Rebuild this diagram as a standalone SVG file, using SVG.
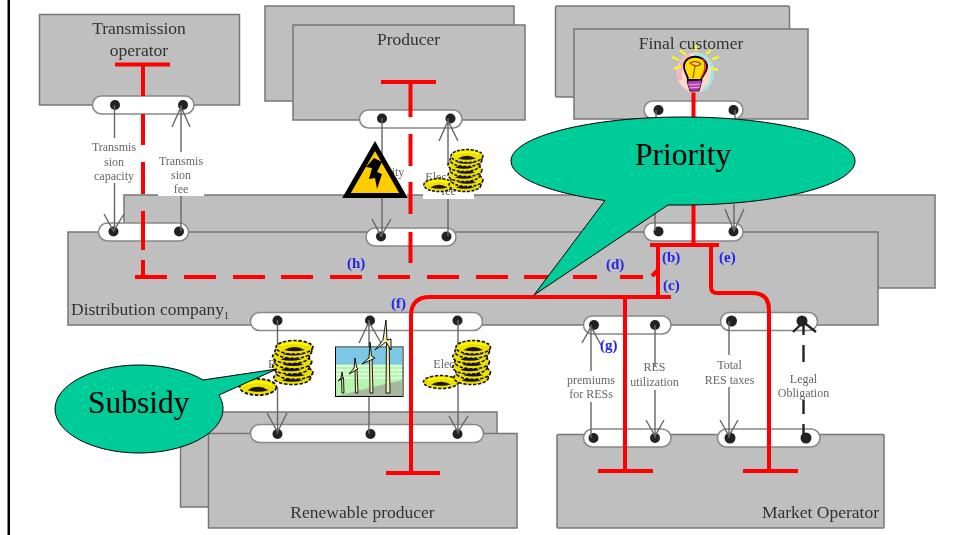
<svg xmlns="http://www.w3.org/2000/svg" xmlns:xlink="http://www.w3.org/1999/xlink" width="955" height="535" viewBox="0 0 955 535">
<style>
.box{fill:#bfbfbf;stroke:#777;stroke-width:1.5}
.pill{fill:#fff;stroke:#888;stroke-width:1.5}
.dot{fill:#222}
.title{font-family:"Liberation Serif",serif;font-size:17.5px;fill:#333}
.lab{font-family:"Liberation Serif",serif;font-size:12px;fill:#666;text-anchor:middle}
.blue{font-family:"Liberation Serif",serif;font-size:15px;font-weight:bold;fill:#2222ee}
.con{fill:none;stroke:#666;stroke-width:1.4}
.legal{fill:none;stroke:#222;stroke-width:2.4}
.red{fill:none;stroke:#f00;stroke-width:4}
.wbox{fill:#fff}
.call{fill:#00cc99;stroke:#000;stroke-width:1}
.big{font-family:"Liberation Serif",serif;font-size:31.5px;fill:#000}
.blade{fill:#f5eeb0;stroke:#000;stroke-width:.9;stroke-linejoin:round}
</style>
<defs>
<filter id="soft" x="-5%" y="-5%" width="110%" height="110%"><feGaussianBlur stdDeviation="0.45"/></filter>
<g id="coin"><ellipse cx="0" cy="0" rx="16" ry="6.500" fill="#eee000" stroke="#111" stroke-width="1.500" stroke-dasharray="3 1.500"/><path d="M-9 2.500Q0 -3 9 2.500Q0 5 -9 2.500Z" fill="#1a1400"/><path d="M-12 -2Q0 -6 12 -2" fill="none" stroke="#ff0" stroke-width="1.500"/></g>
<g id="stackA"><use xlink:href="#coin" x="1" y="35"/><use xlink:href="#coin" x="3" y="30"/><use xlink:href="#coin" x="0" y="25"/><use xlink:href="#coin" x="2" y="20"/><use xlink:href="#coin" x="0" y="15"/><use xlink:href="#coin" x="2" y="10"/><use xlink:href="#coin" x="3" y="6"/></g>
</defs>

<rect width="955" height="535" fill="#fff"/>
<rect x="7.500" y="0" width="2.500" height="535" fill="#000"/>

<g filter="url(#soft)">
<g id="transmission-operator">
<rect class="box" x="39.500" y="14.500" width="200" height="90.500"/>
<text class="title" x="139" y="34" text-anchor="middle">Transmission</text>
<text class="title" x="139" y="56" text-anchor="middle">operator</text>
<rect class="pill" x="92.500" y="96" width="101.500" height="18" rx="9"/>
<circle class="dot" cx="115" cy="105" r="5"/><circle class="dot" cx="183" cy="105" r="5"/>
</g>
<g id="producer">
<rect class="box" x="265" y="6" width="249" height="95"/>
<rect class="box" x="293" y="25" width="232" height="95"/>
<text class="title" x="408.500" y="45" text-anchor="middle">Producer</text>
<rect class="pill" x="359.500" y="110" width="102.500" height="18" rx="9"/>
<circle class="dot" cx="382" cy="118.500" r="5"/><circle class="dot" cx="450.500" cy="118.500" r="5"/>
</g>
<g id="final-customer">
<rect class="box" x="555.500" y="6" width="234" height="91" rx="1.500"/>
<rect class="box" x="574" y="29" width="234" height="90"/>
<text class="title" x="691" y="48.500" text-anchor="middle">Final customer</text>
<path class="pill" d="M653 119A9 9 0 0 1 653 101L734 101A9 9 0 0 1 734 119"/>
<circle class="dot" cx="658.500" cy="110" r="5"/><circle class="dot" cx="733.500" cy="110" r="5"/>
</g>
<g id="distribution-company">
<rect class="box" x="124" y="195" width="811" height="93"/>
<rect class="box" x="68" y="232" width="810" height="93"/>
<text class="title" x="71" y="315">Distribution company<tspan font-size="10" dy="4">1</tspan></text>
<rect class="pill" x="98.500" y="223" width="90" height="18" rx="9"/>
<circle class="dot" cx="113.500" cy="231.500" r="5"/><circle class="dot" cx="179" cy="231.500" r="5"/>
<rect class="pill" x="366" y="228" width="90" height="18" rx="9"/>
<circle class="dot" cx="381" cy="236.500" r="5"/><circle class="dot" cx="446.500" cy="236.500" r="5"/>
<rect class="pill" x="644" y="223" width="99" height="18" rx="9"/>
<circle class="dot" cx="658.500" cy="231.500" r="5"/><circle class="dot" cx="733.500" cy="231.500" r="5"/>
<rect class="pill" x="250.500" y="312.500" width="232" height="18" rx="9"/>
<circle class="dot" cx="277.500" cy="320.500" r="5"/><circle class="dot" cx="370" cy="320.500" r="5"/><circle class="dot" cx="457.500" cy="320.500" r="5"/>
<rect class="pill" x="583.500" y="316" width="87.500" height="18" rx="9"/>
<circle class="dot" cx="594" cy="325" r="5"/><circle class="dot" cx="655" cy="325" r="5"/>
<rect class="pill" x="720.500" y="312.500" width="97" height="18" rx="9"/>
<circle class="dot" cx="731.500" cy="321" r="5.500"/><circle class="dot" cx="802" cy="321" r="5.500"/>
</g>
<g id="renewable-producer">
<rect class="box" x="180.500" y="412" width="316.500" height="95"/>
<rect class="box" x="208.500" y="433.500" width="308.500" height="94.500"/>
<text class="title" x="362.500" y="518" text-anchor="middle">Renewable producer</text>
<rect class="pill" x="250.500" y="424.500" width="233" height="18" rx="9"/>
<circle class="dot" cx="277.500" cy="434" r="5"/><circle class="dot" cx="370.500" cy="434" r="5"/><circle class="dot" cx="457.500" cy="434" r="5"/>
</g>
<g id="market-operator">
<rect class="box" x="557" y="434.500" width="327" height="93.500" rx="1"/>
<text class="title" x="879" y="518" text-anchor="end">Market Operator</text>
<rect class="pill" x="583.500" y="429" width="87.500" height="18" rx="9"/>
<circle class="dot" cx="593.500" cy="438" r="5"/><circle class="dot" cx="655" cy="438" r="5"/>
<rect class="pill" x="717.500" y="429" width="102.500" height="18" rx="9"/>
<circle class="dot" cx="730" cy="438" r="5.500"/><circle class="dot" cx="806" cy="438" r="5.500"/>
</g>

<g id="connectors">
<path class="con" d="M114.500 105V231M104 214L113.500 231L124 214"/>
<path class="con" d="M181 105V231M172 127L181 107L190 127"/>
<path class="con" d="M382 118V236M372 219L381 236L391 219"/>
<path class="con" d="M448 118V236M439 141L448 121L458 141"/>
<path class="con" d="M656 110V120M655 208V231"/>
<path class="con" d="M735 110V120M734 204V231M725 209L734 231L744 209"/>
<path class="con" d="M277.500 320V434M267 413L277.500 432L287 413"/>
<path class="con" d="M369 320V434M359 343L369 322L381 343"/>
<path class="con" d="M458 320V434M449 416L458 432L468 416"/>
<path class="con" d="M591 325V438M582 343L591 327L601 345"/>
<path class="con" d="M655 325V438M646 420L655 436L664 420"/>
<path class="con" d="M729 321V438M720 420L729 436L738 420"/>
<path class="legal" d="M803.500 323V335M803.500 345V362M803.500 400V414M803.500 424V438"/>
<path class="legal" d="M793 332L803.500 322L816 332"/>
<g id="labels">
<rect class="wbox" x="92" y="138" width="46" height="45"/>
<text class="lab" x="114" y="151">Transmis</text><text class="lab" x="114" y="165.500">sion</text><text class="lab" x="114" y="180">capacity</text>
<rect class="wbox" x="158" y="152" width="46" height="44"/>
<text class="lab" x="181" y="165">Transmis</text><text class="lab" x="181" y="179">sion</text><text class="lab" x="181" y="193">fee</text>
<rect class="wbox" x="358" y="160" width="49" height="38"/>
<text class="lab" x="398" y="176">ity</text>
<rect class="wbox" x="423" y="165" width="51" height="34"/>
<text class="lab" x="436" y="181">Elec</text><text class="lab" x="448.500" y="195">fee</text>
<rect class="wbox" x="267" y="353" width="20" height="34"/>
<text class="lab" x="272" y="368">R</text>
<rect class="wbox" x="432" y="353" width="40" height="32"/>
<text class="lab" x="444" y="368">Elec</text>
<rect class="wbox" x="566" y="371" width="50" height="31"/>
<text class="lab" x="591" y="384">premiums</text><text class="lab" x="591" y="398">for RESs</text>
<rect class="wbox" x="630" y="367" width="50" height="23"/>
<text class="lab" x="654.500" y="371">RES</text><text class="lab" x="654.500" y="386">utilization</text>
<rect class="wbox" x="703" y="355" width="52" height="32"/>
<text class="lab" x="729.500" y="369">Total</text><text class="lab" x="729.500" y="384">RES taxes</text>
<rect class="wbox" x="778" y="362" width="50" height="38"/>
<text class="lab" x="803.500" y="383">Legal</text><text class="lab" x="803.500" y="397">Obligation</text>
</g>
<g id="red-lines">
<path class="red" d="M115 64.500H170M143 64.500V96M143 114V145M143 162V194M143 211V250M143 260V277"/>
<path class="red" d="M135 277H167M184 277H216M233 277H265M281 277H313M330 277H362M378 277H410M427 277H459M476 277H508M524 277H553M573 277H597M620 277H643"/>
<path class="red" d="M652 276L658 270"/>
<path class="red" d="M381 82H436M410.500 84V117M410.500 134V166M410.500 182V214M410.500 232V263"/>
<path class="red" d="M693.500 92V245M650 245H719M658 245V297"/>
<path class="red" d="M671 297H430Q411 297 411 316V473M386 473H440"/>
<path class="red" d="M625 297V471M598 471H653"/>
<path class="red" d="M711 245V287Q711 293 717 293H752Q769 293 769 310V471M743 471H798"/>
</g>
</g>

<g id="edge-labels">
<text class="blue" x="347" y="268">(h)</text>
<text class="blue" x="606" y="269">(d)</text>
<text class="blue" x="662" y="262">(b)</text>
<text class="blue" x="719" y="262">(e)</text>
<text class="blue" x="663" y="290">(c)</text>
<text class="blue" x="391" y="308">(f)</text>
<text class="blue" x="600" y="350">(g)</text>
</g>
</g>

<g id="warning-sign">
<path d="M375 146L403.500 195.500H346.500Z" fill="#fc0" stroke="#000" stroke-width="5" stroke-linejoin="miter"/>
<path d="M374 158L382 162L377 172L382 174L377 189L375 178L369 179L372 168L366 167Z" fill="#000"/>
</g>

<g id="coins">
<use xlink:href="#coin" transform="translate(439 185) scale(.95 1)"/>
<use xlink:href="#stackA" x="464" y="150"/>
<use xlink:href="#coin" transform="translate(258 387) scale(1.150 1.250)"/>
<use xlink:href="#stackA" transform="translate(291 341) scale(1.150 1.050)"/>
<use xlink:href="#coin" transform="translate(441 382) scale(1.100 1)"/>
<use xlink:href="#stackA" transform="translate(470 341) scale(1.080 1.050)"/>
</g>

<g id="wind-farm">
<rect x="335.500" y="347" width="67.500" height="49.500" fill="#b6f5b0" stroke="#000" stroke-width="1"/>
<rect x="336" y="347.500" width="66.500" height="17" fill="#7cc6e6"/>
<path d="M336 366H402.500M336 370H402.500M336 374H402.500M336 378H402.500" stroke="#e8ffe0" stroke-width="1.500"/>
<path d="M336 396L402.500 380V396Z" fill="#a8b8a0"/>
<path d="M386.500 340H389L390 393H386Z M369.500 358H372L373 393H370Z M355 368H357L358 393H355.500Z M341.500 378H343.500L344 393H342Z" class="blade"/>
<path d="M383 340L386 320L387 340L391 339L391 350L386 342L375 350Z" class="blade"/>
<path d="M369 358L370 342L371.500 356L375 358L371 360L362 364Z" class="blade"/>
<path d="M354 368L355 358L356.500 367L358 369L349 374Z" class="blade"/>
<path d="M341 378L342 372L343 378L338 381Z" class="blade"/>
</g>

<g id="bulb">
<ellipse cx="695.500" cy="72.500" rx="18.500" ry="20" fill="#fdd8c8"/>
<path d="M690 55Q678 62 680 80" fill="none" stroke="#fbb0c0" stroke-width="4"/>
<path d="M694 55A17 17 0 0 1 712 76Q711 86 703 90" fill="none" stroke="#9ce8e8" stroke-width="3"/>
<path d="M680 50L686 55M696 45L696 51M711 50L706 54M672 57L679 60M719 57L712 59M674 69L681 66M718 70L711 68" stroke="#ff0" stroke-width="2" fill="none"/>
<path d="M688 80C688 74 683 72 684 65C686 54 704 54 707 65C708 72 702 75 701 80Z" fill="#fd0" stroke="#000" stroke-width="1.800"/>
<path d="M703 58Q708 68 701 78" fill="none" stroke="#e02040" stroke-width="1.500"/>
<path d="M693 78L695 66M690 63Q696 60 701 64Q696 68 690 63Z" stroke="#a05000" stroke-width="1.200" fill="#ffe060"/>
<path d="M687 81L702 80L699 91L690 91Z" fill="#b040c0" stroke="#201030" stroke-width="1"/>
<path d="M688 85L701 84M689 88L700 87" stroke="#ffa0d0" stroke-width="1"/>
</g>

<g id="callouts">
<path class="call" d="M605 200.500C545 192 511 177 511 161C511 137 588 117 683 117C778 117 855 137 855 161C855 185 778 205 683 205H668L534 295Z"/>
<text class="big" x="635" y="165">Priority</text>
<path class="call" d="M203 380L277 369L219 395C223 402 223 407 223 409C223 433 185 453 139 453C93 453 55 433 55 409C55 385 93 365 139 365C165 365 188 371 203 380Z"/>
<text class="big" x="88" y="413">Subsidy</text>
</g>
</svg>
